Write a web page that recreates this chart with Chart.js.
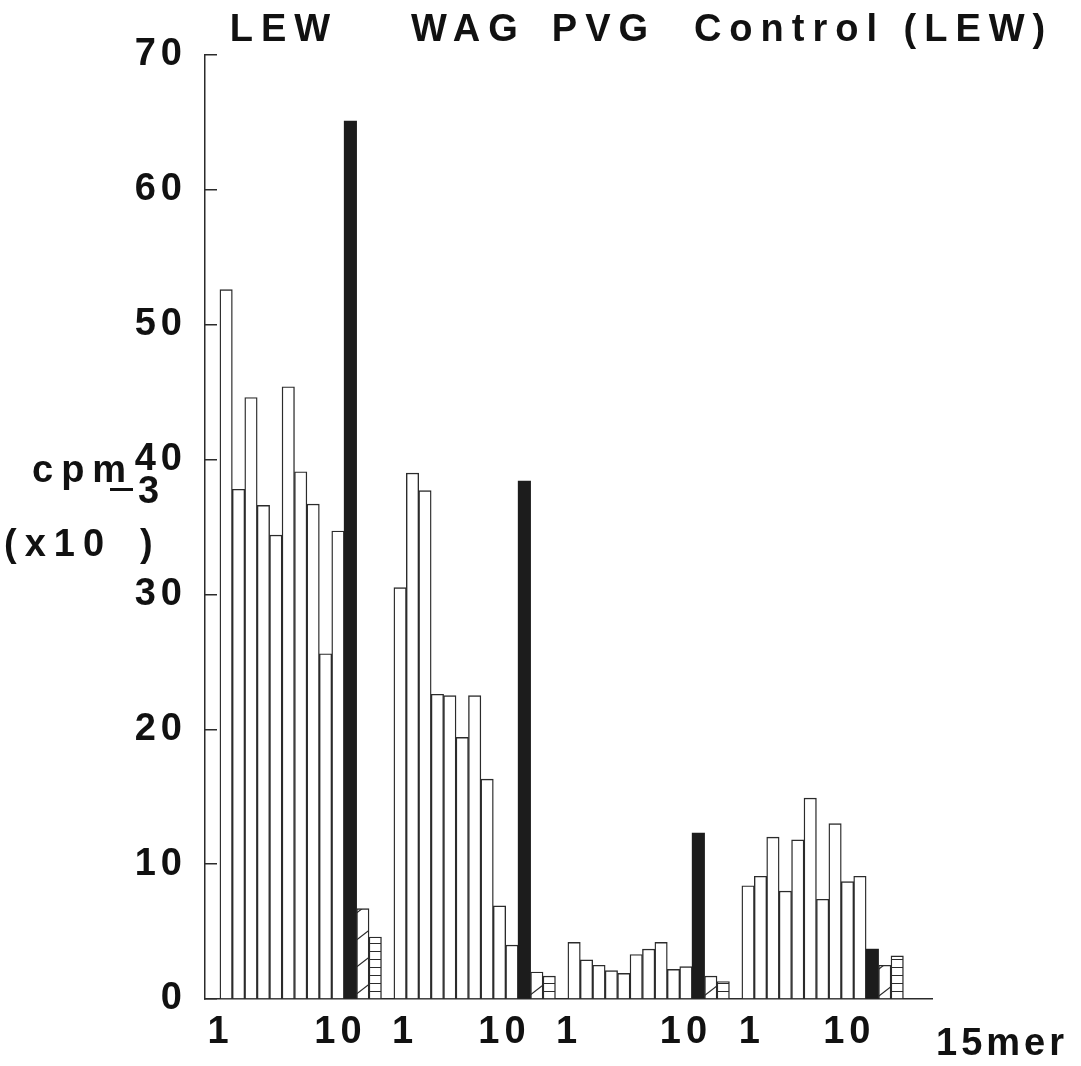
<!DOCTYPE html>
<html>
<head>
<meta charset="utf-8">
<script src="https://cdn.jsdelivr.net/npm/chart.js@4.4.1/dist/chart.umd.min.js"></script>
<style>
  html, body { margin: 0; padding: 0; background: #fff; }
  #wrap { width: 1081px; height: 1066px; }
</style>
</head>
<body>
<div id="wrap"><canvas id="chart"></canvas></div>
<script>
// T-cell response (cpm x10^-3) to the ten 15mer peptides, the whole protein
// and two control preparations, for each rat strain
const strains = ['LEW', 'WAG', 'PVG', 'Control (LEW)'];
const peptidesLew = [52.6, 37.8, 44.6, 36.6, 34.4, 45.4, 39.1, 36.7, 25.6, 34.7];
const peptidesWag = [30.5, 39.0, 37.7, 22.6, 22.5, 19.4, 22.5, 16.3, 6.9, 4.0];
const peptidesPvg = [4.2, 2.9, 2.5, 2.1, 1.9, 3.3, 3.7, 4.2, 2.2, 2.4];
const peptidesCtrl = [8.4, 9.1, 12.0, 8.0, 11.8, 14.9, 7.4, 13.0, 8.7, 9.1];
const wholeProtein = [65.1, 38.4, 12.3, 3.7];
const controlA = [6.7, 2.0, 1.7, 2.5];
const controlB = [4.6, 1.7, 1.3, 3.2];
const yTicks = [0, 10, 20, 30, 40, 50, 60, 70];
const peptideTickLabels = ['1', '10', '1', '10', '1', '10', '1', '10'];

// layout: where the peptide numbers and strain captions sit on the slot axis
const peptideTickSlots = [0.55, 10.2, 15.4, 23.4, 28.6, 38.0, 43.3, 51.15];
const captionSlots = [5.65, 20.5, 31.4, 53.1];

const FONT = '"Liberation Sans", Arial, sans-serif';
const INK = '#2b2b2b';
const TEXT = '#111';
const STRAIN_PITCH = 14;

function diagonalHatch() {
  const c = document.createElement('canvas');
  c.width = 35; c.height = 27;
  const g = c.getContext('2d');
  g.fillStyle = '#fff';
  g.fillRect(0, 0, 35, 27);
  g.strokeStyle = INK;
  g.lineWidth = 1.2;
  [-27, 0, 27].forEach((off) => {
    g.beginPath();
    g.moveTo(0, 27 + off);
    g.lineTo(35, off);
    g.stroke();
  });
  return g.createPattern(c, 'repeat');
}

function ruledHatch() {
  const c = document.createElement('canvas');
  c.width = 8; c.height = 8;
  const g = c.getContext('2d');
  g.fillStyle = '#fff';
  g.fillRect(0, 0, 8, 8);
  g.fillStyle = INK;
  g.fillRect(0, 7, 8, 1.2);
  return g.createPattern(c, 'repeat');
}

const peptideSets = [peptidesLew, peptidesWag, peptidesPvg, peptidesCtrl];
const diag = diagonalHatch();
const ruled = ruledHatch();

// one slot per bar, 13 bars per strain and an empty slot between strains
const points = [];
const fills = [];
const borders = [];
peptideSets.forEach((values, s) => {
  const start = 1 + s * STRAIN_PITCH;
  values.forEach((v, k) => {
    points.push({ x: start + k, y: v });
    fills.push('#ffffff');
    borders.push(1.4);
  });
  points.push({ x: start + 10, y: wholeProtein[s] });
  fills.push('#1c1c1c');
  borders.push(0);
  points.push({ x: start + 11, y: controlA[s] });
  fills.push(diag);
  borders.push(1.4);
  points.push({ x: start + 12, y: controlB[s] });
  fills.push(ruled);
  borders.push(1.4);
});

// wide tracking like the plotter lettering; captions are spaced wider still
const spacing = {
  id: 'spacing',
  beforeDraw(chart) { chart.ctx.letterSpacing = '5px'; },
  afterDatasetsDraw(chart) { chart.ctx.letterSpacing = '8px'; },
  afterDraw(chart) { chart.ctx.letterSpacing = '0px'; }
};

const axisText = {
  id: 'axisText',
  afterDraw(chart) {
    const { ctx } = chart;
    ctx.save();
    ctx.fillStyle = TEXT;
    ctx.font = 'bold 38px ' + FONT;
    ctx.textBaseline = 'alphabetic';
    ctx.letterSpacing = '8px';
    ctx.fillText('cpm', 32, 482);
    ctx.fillText('(x10', 4, 556);
    ctx.fillText(')', 140, 556);
    ctx.fillText('3', 138, 503);
    ctx.fillRect(110, 488, 23, 3);
    ctx.letterSpacing = '4px';
    ctx.fillText('15mer', 936, 1055);
    ctx.restore();
  }
};

new Chart(document.getElementById('chart'), {
  type: 'bar',
  data: {
    datasets: [{
      data: points,
      backgroundColor: fills,
      borderColor: INK,
      borderWidth: borders,
      borderSkipped: 'bottom',
      barPercentage: 1,
      categoryPercentage: 1
    }]
  },
  options: {
    responsive: true,
    maintainAspectRatio: false,
    animation: false,
    events: [],
    layout: { padding: { left: 120, right: 149, top: 0, bottom: 0 } },
    plugins: { legend: { display: false }, tooltip: { enabled: false } },
    scales: {
      x: {
        type: 'linear',
        offset: false,
        min: -0.7,
        max: 57.8,
        afterBuildTicks(scale) {
          scale.ticks = peptideTickSlots.map((v) => ({ value: v }));
        },
        afterFit(scale) { scale.height = 67; },
        ticks: {
          autoSkip: false,
          maxRotation: 0,
          padding: 11,
          color: TEXT,
          font: { family: FONT, size: 38, weight: 'bold' },
          callback: (v, i) => peptideTickLabels[i]
        },
        grid: { display: false, drawTicks: false },
        border: { display: true, color: INK, width: 1.5 }
      },
      top: {
        type: 'linear',
        position: 'top',
        offset: false,
        min: -0.7,
        max: 57.8,
        afterBuildTicks(scale) {
          scale.ticks = captionSlots.map((v) => ({ value: v }));
        },
        afterFit(scale) { scale.height = 55; },
        ticks: {
          z: 1,
          autoSkip: false,
          maxRotation: 0,
          padding: 2,
          color: TEXT,
          font: { family: FONT, size: 38, weight: 'bold' },
          callback: (v, i) => strains[i]
        },
        grid: { display: false, drawTicks: false },
        border: { display: false }
      },
      y: {
        min: 0,
        max: 70,
        afterBuildTicks(scale) {
          scale.ticks = yTicks.map((v) => ({ value: v }));
        },
        afterFit(scale) { scale.width = 85; },
        ticks: {
          crossAlign: 'near',
          padding: 30,
          color: TEXT,
          font: { family: FONT, size: 38, weight: 'bold' }
        },
        grid: { drawOnChartArea: false, tickLength: -12, color: INK, lineWidth: 1.5 },
        border: { display: true, color: INK, width: 1.5 }
      }
    }
  },
  plugins: [spacing, axisText]
});
</script>
</body>
</html>
